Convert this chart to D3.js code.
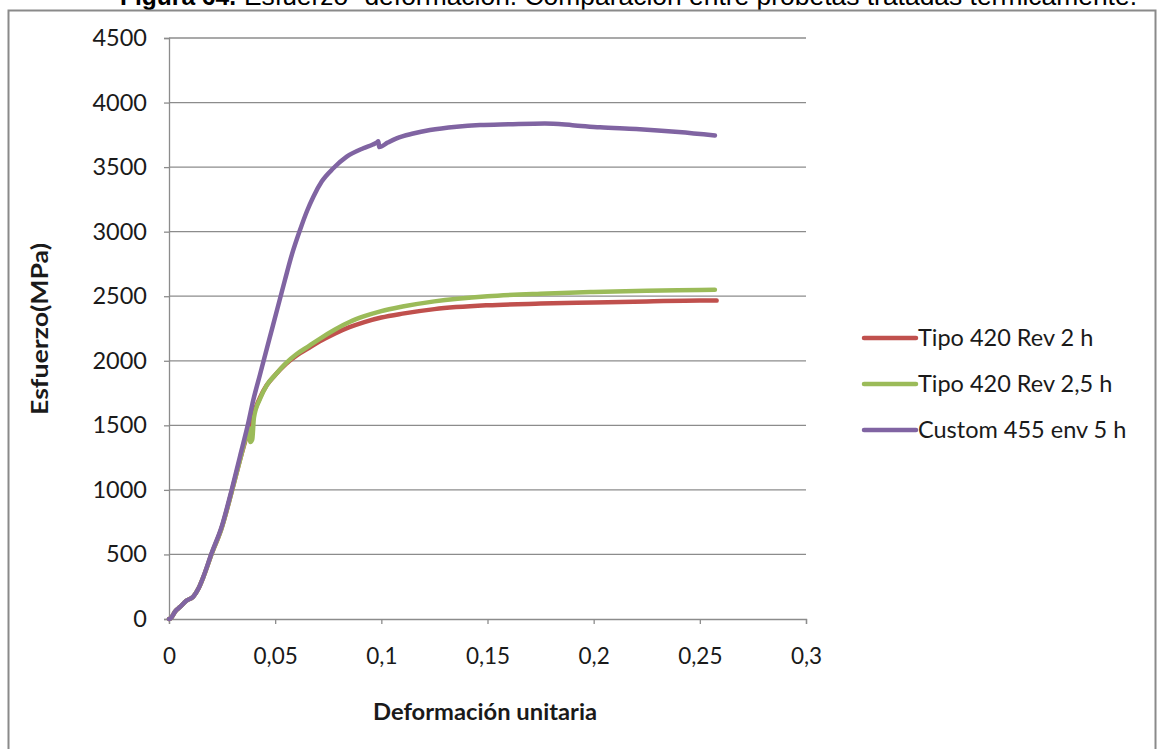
<!DOCTYPE html>
<html>
<head>
<meta charset="utf-8">
<script src="https://cdn.jsdelivr.net/npm/d3@7/dist/d3.min.js"></script>
<style>
  html, body { margin: 0; padding: 0; background: #fff; }
  svg { display: block; }
  text { font-family: Lato, "Open Sans", sans-serif; fill: #1a1a1a; }
</style>
</head>
<body>
<svg id="chart" width="1158" height="749"></svg>
<script>
// Stress–strain curves of heat-treated specimens
const seriesNames = ["Tipo 420 Rev 2 h", "Tipo 420 Rev 2,5 h", "Custom 455 env 5 h"];
const seriesColors = ["#C0504D", "#9BBB59", "#8064A2"];

const strainRed = [0, 0.0008, 0.003, 0.0052, 0.008, 0.0114, 0.014, 0.0162, 0.0201, 0.0248, 0.0295, 0.0334, 0.037, 0.040, 0.043, 0.046, 0.050, 0.055, 0.060, 0.066, 0.071, 0.078, 0.085, 0.092, 0.100, 0.110, 0.125, 0.150, 0.175, 0.200, 0.225, 0.250, 0.2579];
const stressRed = [0, 5, 60, 93, 140, 173, 240, 325, 505, 705, 985, 1230, 1440, 1600, 1720, 1810, 1890, 1975, 2040, 2100, 2150, 2210, 2260, 2300, 2335, 2365, 2400, 2430, 2443, 2452, 2460, 2467, 2466];

const strainGreen = [0, 0.0008, 0.003, 0.0052, 0.008, 0.0114, 0.014, 0.0162, 0.0201, 0.0248, 0.0295, 0.0334, 0.0365, 0.0378, 0.0383, 0.0392, 0.0400, 0.043, 0.046, 0.050, 0.055, 0.060, 0.066, 0.071, 0.078, 0.085, 0.092, 0.100, 0.110, 0.125, 0.150, 0.175, 0.200, 0.225, 0.250, 0.2571];
const stressGreen = [0, 5, 60, 93, 140, 173, 240, 325, 505, 705, 985, 1230, 1420, 1480, 1370, 1390, 1560, 1710, 1810, 1890, 1980, 2050, 2115, 2170, 2240, 2300, 2345, 2385, 2420, 2460, 2500, 2520, 2533, 2542, 2548, 2550];

const strainPurple = [0, 0.0008, 0.003, 0.0052, 0.008, 0.0114, 0.014, 0.0162, 0.0201, 0.0248, 0.0295, 0.0334, 0.0373, 0.0397, 0.0429, 0.047, 0.051, 0.0546, 0.058, 0.0617, 0.065, 0.068, 0.072, 0.0774, 0.0837, 0.0915, 0.096, 0.0978, 0.0986, 0.099, 0.103, 0.1072, 0.115, 0.1229, 0.1355, 0.1465, 0.16, 0.177, 0.19, 0.203, 0.22, 0.24, 0.2571];
const stressPurple = [0, 5, 60, 93, 140, 173, 240, 328, 511, 715, 999, 1257, 1516, 1696, 1896, 2152, 2401, 2626, 2830, 3013, 3160, 3271, 3390, 3491, 3581, 3646, 3675, 3690, 3700, 3655, 3690, 3723, 3760, 3787, 3813, 3826, 3832, 3838, 3825, 3808, 3795, 3772, 3745];

const xTicks = [0, 0.05, 0.1, 0.15, 0.2, 0.25, 0.3];
const xTickLabels = ["0", "0,05", "0,1", "0,15", "0,2", "0,25", "0,3"];
const yTicks = [0, 500, 1000, 1500, 2000, 2500, 3000, 3500, 4000, 4500];

const titleBold = "Figura 64.";
const titleRest = "Esfuerzo- deformación. Comparación entre probetas tratadas térmicamente.";
const xTitle = "Deformación unitaria";
const yTitle = "Esfuerzo(MPa)";

const svg = d3.select("#chart");
const plot = { left: 169, right: 806, top: 38, bottom: 619 };

const x = d3.scaleLinear().domain([0, 0.3]).range([plot.left, plot.right]);
const y = d3.scaleLinear().domain([0, 4500]).range([plot.bottom, plot.top]);

// caption above the chart frame (its upper part runs off the page)
svg.append("text")
  .attr("x", 120).attr("y", 5)
  .style("font-family", "'Liberation Sans', Arial, sans-serif")
  .style("font-size", "25px").style("font-weight", "bold").style("fill", "#000")
  .attr("textLength", 116).attr("lengthAdjust", "spacingAndGlyphs")
  .text(titleBold);
svg.append("text")
  .attr("x", 244).attr("y", 5)
  .style("font-family", "'Liberation Sans', Arial, sans-serif")
  .style("font-size", "25px").style("fill", "#000")
  .attr("textLength", 893).attr("lengthAdjust", "spacingAndGlyphs")
  .text(titleRest);

// chart frame
svg.append("rect")
  .attr("x", 8.5).attr("y", 10.5).attr("width", 1147).attr("height", 800)
  .attr("fill", "none").attr("stroke", "#8a8a8a").attr("stroke-width", 2);

// horizontal gridlines
svg.append("g").selectAll("line").data(yTicks.filter(d => d > 0)).join("line")
  .attr("x1", plot.left).attr("x2", plot.right)
  .attr("y1", d => y(d)).attr("y2", d => y(d))
  .attr("stroke", "#8c8c8c").attr("stroke-width", 1.3);

// y axis
const yAxis = svg.append("g").attr("transform", `translate(${plot.left},0)`)
  .call(d3.axisLeft(y).tickValues(yTicks).tickFormat(d3.format("d")).tickSize(5).tickPadding(17));
yAxis.select(".domain").attr("stroke", "#8c8c8c").attr("stroke-width", 1.3);
yAxis.selectAll(".tick line").attr("stroke", "#8c8c8c").attr("stroke-width", 1.3);
yAxis.selectAll(".tick text").style("font-size", "23.5px").style("font-family", "Lato, sans-serif").attr("fill", "#1a1a1a");

// x axis
const xAxis = svg.append("g").attr("transform", `translate(0,${plot.bottom})`)
  .call(d3.axisBottom(x).tickValues(xTicks).tickFormat((d, i) => xTickLabels[i]).tickSize(5).tickPadding(24));
xAxis.select(".domain").attr("stroke", "#8c8c8c").attr("stroke-width", 1.3);
xAxis.selectAll(".tick line").attr("stroke", "#8c8c8c").attr("stroke-width", 1.3);
xAxis.selectAll(".tick text").style("font-size", "22.5px").style("font-family", "Lato, sans-serif").attr("fill", "#1a1a1a");

// axis titles
svg.append("text")
  .attr("x", 485).attr("y", 720).attr("text-anchor", "middle")
  .style("font-weight", "bold").style("font-size", "22px")
  .attr("textLength", 224).attr("lengthAdjust", "spacingAndGlyphs")
  .text(xTitle);

svg.append("text")
  .attr("transform", "translate(48,329) rotate(-90)").attr("text-anchor", "middle")
  .style("font-weight", "bold").style("font-size", "23px")
  .attr("textLength", 172).attr("lengthAdjust", "spacingAndGlyphs")
  .text(yTitle);

// curves
const series = [
  { xs: strainRed, ys: stressRed },
  { xs: strainGreen, ys: stressGreen },
  { xs: strainPurple, ys: stressPurple }
];
const line = d3.line().x(d => x(d[0])).y(d => y(d[1])).curve(d3.curveMonotoneX);
svg.append("g").selectAll("path").data(series).join("path")
  .attr("d", s => line(s.xs.map((v, i) => [v, s.ys[i]])))
  .attr("fill", "none")
  .attr("stroke", (s, i) => seriesColors[i])
  .attr("stroke-width", 4.5)
  .attr("stroke-linejoin", "round").attr("stroke-linecap", "round");

// legend
const legendTop = 338, legendStep = 46;
const lg = svg.append("g").selectAll("g").data(seriesNames).join("g")
  .attr("transform", (d, i) => `translate(864,${legendTop + i * legendStep})`);
lg.append("line").attr("x1", 0).attr("x2", 52).attr("y1", 0).attr("y2", 0)
  .attr("stroke", (d, i) => seriesColors[i]).attr("stroke-width", 4.5).attr("stroke-linecap", "round");
lg.append("text").attr("x", 54).attr("y", 8)
  .style("font-size", "23.5px")
  .text(d => d);
</script>
</body>
</html>
